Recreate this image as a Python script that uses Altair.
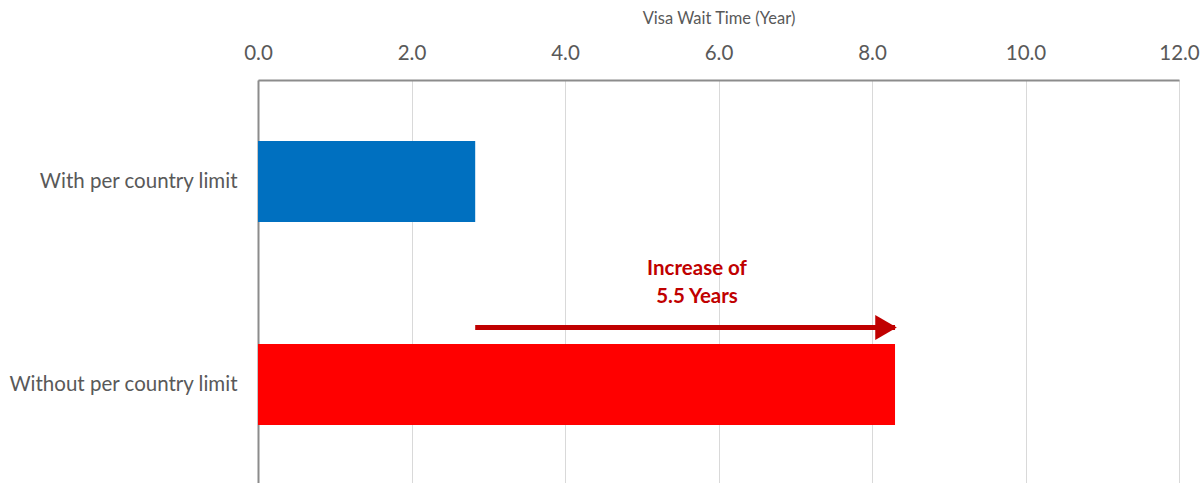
import altair as alt
import pandas as pd

categories = ["With per country limit", "Without per country limit"]
wait_years = [2.83, 8.3]
bar_colors = ["#0070c0", "#ff0000"]

arrow_start = [2.83]
arrow_end = [8.3]
note_lines = ["Increase of", "5.5 Years"]
note_x = [5.72]

bars_df = pd.DataFrame({"cat": categories, "years": wait_years, "color": bar_colors})
arrow_df = pd.DataFrame({"cat": [categories[1]], "x": arrow_start, "x2": arrow_end})
note_df = pd.DataFrame({"cat": [categories[1]], "x": note_x, "text": [note_lines]})

FONT = "Lato"
LABEL_SIZE = 20.5

y_enc = alt.Y(
    "cat:N",
    sort=categories,
    title=None,
    scale=alt.Scale(paddingInner=0.6, paddingOuter=0.3),
    axis=alt.Axis(
        labelFontSize=LABEL_SIZE, labelColor="#595959", labelFont=FONT, ticks=False,
        labelPadding=21, domainColor="#8c8c8c", domainWidth=2, grid=False,
        labelLimit=300,
    ),
)

x_scale = alt.Scale(domain=[0, 12], nice=False)

bars = alt.Chart(bars_df).mark_bar().encode(
    x=alt.X(
        "years:Q",
        scale=x_scale,
        title="Visa Wait Time (Year)",
        axis=alt.Axis(
            orient="top", values=[0, 2, 4, 6, 8, 10, 12], format=".1f",
            labelFontSize=LABEL_SIZE, labelColor="#595959", labelFont=FONT,
            labelFlush=False,
            ticks=False, labelPadding=17, domainColor="#8c8c8c", domainWidth=2,
            gridColor="#d9d9d9", gridWidth=1,
            titleFontSize=16.5, titleFont=FONT, titleColor="#595959",
            titleFontWeight="normal", titlePadding=17,
        ),
    ),
    y=y_enc,
    color=alt.Color("color:N", scale=None),
)

arrow_line = alt.Chart(arrow_df).mark_rule(
    color="#c00000", strokeWidth=5, yOffset=-57
).encode(
    x=alt.X("x:Q", scale=x_scale),
    x2=alt.X2("x2"),
    y=alt.Y("cat:N", sort=categories),
)

arrow_df2 = pd.DataFrame({"cat": [categories[1]], "x": arrow_end})
arrow_head = alt.Chart(arrow_df2).mark_point(
    shape="triangle-right", filled=True, color="#c00000", size=620,
    opacity=1, yOffset=-57, xOffset=-9,
).encode(
    x=alt.X("x:Q", scale=x_scale),
    y=alt.Y("cat:N", sort=categories),
)

note = alt.Chart(note_df).mark_text(
    color="#c00000", fontSize=LABEL_SIZE, fontWeight="bold", font=FONT,
    yOffset=-116, lineHeight=28, baseline="middle", align="center",
).encode(
    x=alt.X("x:Q", scale=x_scale),
    y=alt.Y("cat:N", sort=categories),
    text="text",
)

chart = alt.layer(bars, arrow_line, arrow_head, note).properties(
    width=921, height=406,
    autosize=alt.AutoSizeParams(type="none"),
    padding={"left": 258, "top": 80, "right": 25, "bottom": 0},
).configure_view(stroke=None).configure(background="white")

chart.save("out.html", embed_options={"renderer": "svg", "actions": False})
